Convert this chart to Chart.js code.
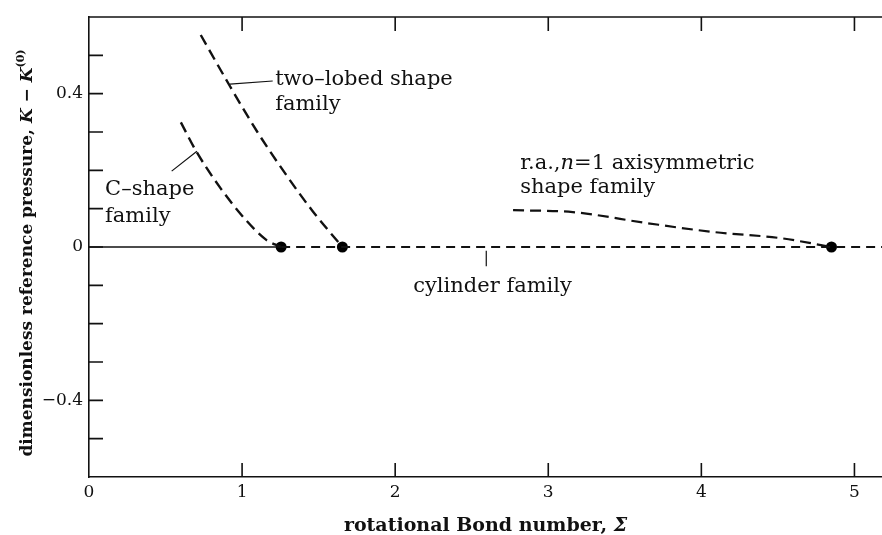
<!DOCTYPE html>
<html>
<head>
<meta charset="utf-8">
<script src="https://cdn.jsdelivr.net/npm/chart.js@4"></script>
<style>
  html, body { margin: 0; padding: 0; background: #fff; overflow: hidden; }
  #wrap { width: 882px; height: 535px; }
  canvas { display: block; }
</style>
</head>
<body>
<div id="wrap"><canvas id="bond_chart" width="882" height="535"></canvas></div>
<script>
// DATA

// C-shape family branch
const cShapeX = [0.60, 0.70, 0.86, 1.03, 1.16, 1.255];
const cShapeY = [0.325, 0.25, 0.153, 0.068, 0.018, 0];

// two-lobed shape family branch
const twoLobedX = [0.73, 0.92, 1.10, 1.29, 1.46, 1.655];
const twoLobedY = [0.553, 0.42, 0.30, 0.187, 0.094, 0];

// r.a., n=1 axisymmetric shape family
const axisymX = [2.77, 3.16, 3.65, 4.08, 4.52, 4.85];
const axisymY = [0.096, 0.091, 0.062, 0.039, 0.023, 0];

// cylinder family: stable (solid) up to first bifurcation, then dashed
const cylSolidX = [0, 1.255];
const cylSolidY = [0, 0];
const cylDashX = [1.255, 5.2];
const cylDashY = [0, 0];

// bifurcation points
const bifX = [1.255, 1.655, 4.85];
const bifY = [0, 0, 0];

// axes
const xTickValues = [0, 1, 2, 3, 4, 5];
const yMinorTicks = [-0.5, -0.4, -0.3, -0.2, -0.1, 0, 0.1, 0.2, 0.3, 0.4, 0.5];
const yLabelled = [-0.4, 0, 0.4];

const INK = '#111';
const SERIF = '"DejaVu Serif", serif';

function pts(xs, ys) {
	return xs.map((x, i) => ({ x: x, y: ys[i] }));
}

function curve(xs, ys, dash, width) {
	return {
		data: pts(xs, ys),
		showLine: true,
		borderColor: INK,
		borderWidth: width,
		borderDash: dash,
		pointRadius: 0,
		cubicInterpolationMode: 'monotone',
		fill: false,
	};
}

// draw a line of text made of runs with different fonts
function drawRuns(ctx, runs, x, y, align) {
	let total = 0;
	runs.forEach(r => { ctx.font = r.font; total += ctx.measureText(r.text).width; });
	let cx = align === 'center' ? x - total / 2 : x;
	runs.forEach(r => {
		ctx.font = r.font;
		ctx.fillText(r.text, cx, y + (r.dy || 0));
		cx += ctx.measureText(r.text).width;
	});
}

const REG = '21px ' + SERIF;
const ITAL = 'italic 21px ' + SERIF;

// annotation labels, anchored in data units (left end of baseline)
const notes = [
	{ x: 1.216, y: 0.422, runs: [{ text: 'two\u2013lobed shape', font: REG }] },
	{ x: 1.216, y: 0.357, runs: [{ text: 'family', font: REG }] },
	{ x: 0.105, y: 0.135, runs: [{ text: 'C\u2013shape', font: REG }] },
	{ x: 0.105, y: 0.065, runs: [{ text: 'family', font: REG }] },
	{ x: 2.817, y: 0.203, runs: [{ text: 'r.a.,', font: REG }, { text: 'n', font: ITAL }, { text: '=1 axisymmetric', font: REG }] },
	{ x: 2.817, y: 0.141, runs: [{ text: 'shape family', font: REG }] },
	{ x: 2.118, y: -0.117, runs: [{ text: 'cylinder family', font: REG }] },
];

// leader lines from label to curve, in data units
const leaders = [
	[0.92, 0.425, 1.20, 0.433],
	[0.54, 0.198, 0.705, 0.25],
	[2.595, -0.01, 2.595, -0.05],
];

const framePlugin = {
	id: 'frame',
	afterDraw(chart) {
		const ctx = chart.ctx;
		const xs = chart.scales.x, ys = chart.scales.y;
		const a = chart.chartArea;
		ctx.save();
		ctx.strokeStyle = INK;
		ctx.lineWidth = 1.6;

		// top border
		ctx.beginPath();
		ctx.moveTo(a.left, a.top);
		ctx.lineTo(a.right, a.top);
		ctx.stroke();

		// inward ticks
		const tl = 14;
		ctx.beginPath();
		xTickValues.slice(1).forEach(v => {
			const px = xs.getPixelForValue(v);
			ctx.moveTo(px, a.bottom); ctx.lineTo(px, a.bottom - tl);
			ctx.moveTo(px, a.top); ctx.lineTo(px, a.top + tl);
		});
		yMinorTicks.forEach(v => {
			const py = ys.getPixelForValue(v);
			ctx.moveTo(a.left, py); ctx.lineTo(a.left + tl, py);
		});
		ctx.stroke();

		// leaders
		ctx.lineWidth = 1.2;
		ctx.beginPath();
		leaders.forEach(l => {
			ctx.moveTo(xs.getPixelForValue(l[0]), ys.getPixelForValue(l[1]));
			ctx.lineTo(xs.getPixelForValue(l[2]), ys.getPixelForValue(l[3]));
		});
		ctx.stroke();

		// labels
		ctx.fillStyle = INK;
		ctx.textBaseline = 'alphabetic';
		notes.forEach(n => {
			drawRuns(ctx, n.runs, xs.getPixelForValue(n.x), ys.getPixelForValue(n.y), 'left');
		});

		// axis titles
		drawRuns(ctx, [
			{ text: 'rotational Bond number, ', font: 'bold 19px ' + SERIF },
			{ text: '\u03A3', font: 'italic bold 19px ' + SERIF },
		], (a.left + a.right) / 2, 531, 'center');

		const B = 'bold 17px ' + SERIF;
		const BI = 'italic bold 17px ' + SERIF;
		ctx.translate(32, (a.top + a.bottom) / 2 + 6);
		ctx.rotate(-Math.PI / 2);
		drawRuns(ctx, [
			{ text: 'dimensionless reference pressure, ', font: B },
			{ text: 'K', font: BI },
			{ text: ' \u2212 ', font: B },
			{ text: 'K', font: BI },
			{ text: '(0)', font: 'bold 11px ' + SERIF, dy: -8 },
		], 0, 0, 'center');
		ctx.restore();
	},
};

function initialize() {
	const context = document.getElementById('bond_chart').getContext('2d');

	new Chart(context, {
		type: 'scatter',
		data: {
			datasets: [
				curve(cylSolidX, cylSolidY, [], 1.6),
				curve(cylDashX, cylDashY, [9, 6], 2.2),
				curve(cShapeX, cShapeY, [11, 6], 2.4),
				curve(twoLobedX, twoLobedY, [11, 6], 2.4),
				curve(axisymX, axisymY, [11, 6], 2.2),
				{
					data: pts(bifX, bifY),
					showLine: false,
					pointRadius: 5.5,
					pointBackgroundColor: '#000',
					pointBorderColor: '#000',
					pointBorderWidth: 0,
				},
			],
		},
		options: {
			responsive: false,
			animation: false,
			layout: { autoPadding: false, padding: { top: 17, right: 0, left: 0, bottom: 0 } },
			plugins: {
				legend: { display: false },
				tooltip: { enabled: false },
			},
			scales: {
				x: {
					type: 'linear',
					min: 0,
					max: 5.18,
					afterFit: s => { s.height = 58; },
					grid: { display: false, drawTicks: false },
					border: { display: true, color: INK, width: 1.6 },
					ticks: {
						stepSize: 1,
						includeBounds: false,
						padding: 5,
						color: INK,
						font: { family: SERIF, size: 17 },
						callback: v => String(v),
					},
				},
				y: {
					type: 'linear',
					min: -0.6,
					max: 0.6,
					afterFit: s => { s.width = 89; },
					grid: { display: false, drawTicks: false },
					border: { display: true, color: INK, width: 1.6 },
					ticks: {
						stepSize: 0.1,
						includeBounds: false,
						autoSkip: false,
						padding: 6,
						color: INK,
						font: { family: SERIF, size: 17 },
						callback: v => {
							const hit = yLabelled.find(t => Math.abs(t - v) < 1e-6);
							if (hit === undefined) return '';
							return hit < 0 ? '\u2212' + Math.abs(hit).toFixed(1) : (hit === 0 ? '0' : hit.toFixed(1));
						},
					},
				},
			},
		},
		plugins: [framePlugin],
	});
}

initialize();
</script>
</body>
</html>
